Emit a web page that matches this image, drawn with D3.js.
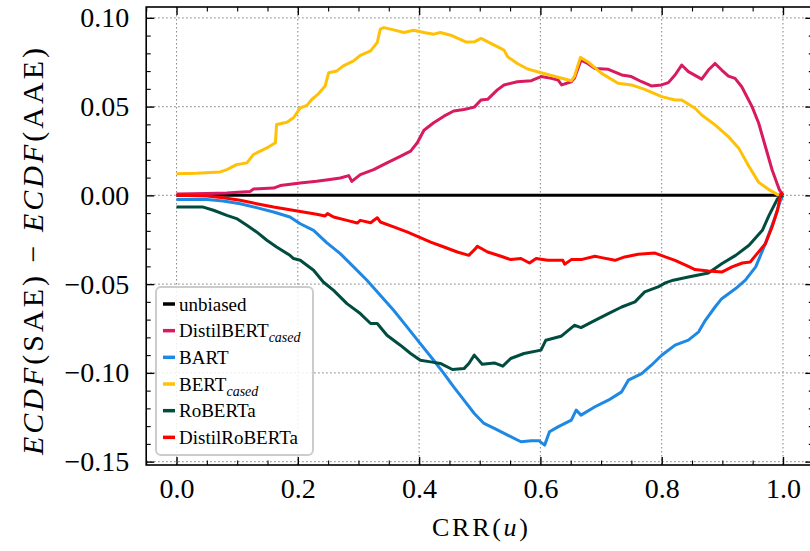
<!DOCTYPE html>
<html><head><meta charset="utf-8">
<script src="https://cdn.jsdelivr.net/npm/d3@7"></script>
</head>
<body style="margin:0;padding:0;background:#fff">
<svg id="chart" width="810" height="551" style="display:block"></svg>
<script>
// ---------------- data ----------------
const seriesNames = ["unbiased", "DistilBERT", "BART", "BERT", "RoBERTa", "DistilRoBERTa"];
const seriesSubs  = ["", "cased", "", "cased", "", ""];
const seriesColors = ["#000000", "#D81B60", "#1E88E5", "#FFC107", "#004D40", "#FF0000"];

const xTicks = [0.0, 0.2, 0.4, 0.6, 0.8, 1.0];
const yTicks = [-0.15, -0.10, -0.05, 0.00, 0.05, 0.10];

const unbiased = [[0, 0], [1, 0]];

const distilBertCased = [[0,0.0008],[0.05,0.0011],[0.083,0.0013],[0.121,0.0021],[0.127,0.0036],[0.160,0.0041],[0.171,0.0055],[0.204,0.007],[0.231,0.0079],[0.253,0.0089],[0.270,0.0098],[0.284,0.0111],[0.289,0.0079],[0.303,0.0117],[0.325,0.0145],[0.347,0.0183],[0.369,0.022],[0.386,0.0249],[0.397,0.0296],[0.408,0.0367],[0.424,0.0409],[0.441,0.0446],[0.457,0.0475],[0.474,0.0484],[0.491,0.0497],[0.502,0.0537],[0.513,0.0541],[0.529,0.0594],[0.540,0.0622],[0.562,0.064],[0.585,0.0646],[0.601,0.0669],[0.618,0.0659],[0.629,0.065],[0.635,0.0622],[0.651,0.064],[0.656,0.0659],[0.667,0.0762],[0.678,0.0743],[0.690,0.0715],[0.712,0.071],[0.734,0.0678],[0.750,0.0669],[0.767,0.064],[0.783,0.0616],[0.800,0.0622],[0.811,0.0635],[0.822,0.0678],[0.833,0.0734],[0.844,0.0697],[0.866,0.0655],[0.877,0.0706],[0.888,0.0743],[0.899,0.0706],[0.910,0.0672],[0.921,0.0659],[0.932,0.0612],[0.949,0.050],[0.960,0.0406],[0.971,0.0275],[0.982,0.0144],[0.994,0.0032],[1.0,0]];

const bart = [[0,-0.0024],[0.05,-0.0024],[0.077,-0.0032],[0.105,-0.0047],[0.132,-0.0069],[0.160,-0.0094],[0.187,-0.0122],[0.204,-0.016],[0.226,-0.0197],[0.248,-0.0268],[0.270,-0.0328],[0.292,-0.0403],[0.314,-0.0478],[0.336,-0.0563],[0.358,-0.0647],[0.380,-0.0741],[0.402,-0.0835],[0.424,-0.0929],[0.441,-0.1004],[0.457,-0.1079],[0.474,-0.1154],[0.491,-0.1229],[0.507,-0.1285],[0.524,-0.1313],[0.546,-0.1351],[0.568,-0.1388],[0.585,-0.1383],[0.598,-0.1383],[0.607,-0.1407],[0.615,-0.1332],[0.629,-0.1304],[0.651,-0.1266],[0.659,-0.121],[0.667,-0.1238],[0.690,-0.1191],[0.712,-0.1154],[0.734,-0.1107],[0.745,-0.1041],[0.767,-0.1004],[0.783,-0.0957],[0.800,-0.0901],[0.822,-0.0844],[0.844,-0.0816],[0.861,-0.0769],[0.872,-0.0704],[0.888,-0.0629],[0.899,-0.0582],[0.922,-0.0525],[0.938,-0.0478],[0.955,-0.0403],[0.971,-0.0272],[0.985,-0.0141],[0.996,-0.0028],[1.0,0]];

const bertCased = [[0,0.0122],[0.033,0.0124],[0.072,0.0132],[0.083,0.0145],[0.099,0.0173],[0.116,0.0183],[0.127,0.023],[0.149,0.0267],[0.163,0.0296],[0.165,0.0399],[0.182,0.0412],[0.193,0.0437],[0.204,0.0493],[0.215,0.0507],[0.223,0.054],[0.234,0.0572],[0.245,0.0616],[0.251,0.0691],[0.264,0.070],[0.275,0.0729],[0.292,0.0757],[0.303,0.0789],[0.320,0.0814],[0.331,0.0861],[0.336,0.0936],[0.342,0.0945],[0.358,0.0932],[0.375,0.0917],[0.391,0.093],[0.408,0.0917],[0.424,0.0908],[0.435,0.0917],[0.452,0.0902],[0.477,0.0864],[0.491,0.0865],[0.502,0.0884],[0.524,0.0846],[0.540,0.0818],[0.546,0.0781],[0.562,0.0743],[0.579,0.0712],[0.601,0.0691],[0.629,0.0665],[0.651,0.0646],[0.656,0.0669],[0.666,0.0777],[0.678,0.0753],[0.701,0.0687],[0.728,0.0631],[0.750,0.0622],[0.772,0.0597],[0.800,0.0556],[0.822,0.0537],[0.833,0.0537],[0.855,0.0491],[0.866,0.0453],[0.888,0.0397],[0.910,0.0331],[0.927,0.0266],[0.944,0.0163],[0.960,0.0073],[0.977,0.0032],[0.991,0.0004],[1.0,0]];

const roberta = [[0,-0.0066],[0.044,-0.0066],[0.061,-0.0084],[0.083,-0.0113],[0.099,-0.0131],[0.116,-0.0169],[0.132,-0.0206],[0.149,-0.0253],[0.165,-0.0291],[0.187,-0.0338],[0.193,-0.0356],[0.204,-0.0366],[0.226,-0.0422],[0.242,-0.0488],[0.259,-0.0535],[0.281,-0.061],[0.303,-0.0666],[0.320,-0.0722],[0.331,-0.0722],[0.347,-0.0788],[0.369,-0.0844],[0.386,-0.0891],[0.402,-0.0929],[0.419,-0.0938],[0.435,-0.0947],[0.455,-0.0981],[0.474,-0.0976],[0.482,-0.0947],[0.491,-0.090],[0.504,-0.0951],[0.524,-0.0944],[0.538,-0.0962],[0.551,-0.0919],[0.573,-0.0891],[0.601,-0.0872],[0.609,-0.0816],[0.634,-0.0794],[0.656,-0.0732],[0.667,-0.0745],[0.690,-0.0704],[0.712,-0.0666],[0.734,-0.0629],[0.756,-0.060],[0.772,-0.0544],[0.794,-0.0516],[0.806,-0.0493],[0.819,-0.0478],[0.844,-0.046],[0.877,-0.0437],[0.899,-0.0385],[0.922,-0.0338],[0.944,-0.0281],[0.966,-0.0197],[0.977,-0.0113],[0.991,-0.0019],[1.0,0]];

const distilRoberta = [[0,0],[0.05,-0.0004],[0.077,-0.0013],[0.105,-0.0028],[0.132,-0.0047],[0.160,-0.0066],[0.187,-0.0081],[0.209,-0.0094],[0.231,-0.0107],[0.245,-0.0116],[0.249,-0.0103],[0.259,-0.0122],[0.281,-0.0141],[0.298,-0.0156],[0.303,-0.0141],[0.320,-0.0154],[0.331,-0.0126],[0.336,-0.015],[0.358,-0.0178],[0.380,-0.0206],[0.402,-0.0238],[0.419,-0.0263],[0.441,-0.0291],[0.463,-0.0319],[0.482,-0.0338],[0.493,-0.030],[0.496,-0.0287],[0.513,-0.0319],[0.535,-0.0343],[0.551,-0.0362],[0.568,-0.0356],[0.582,-0.0381],[0.593,-0.0356],[0.612,-0.0366],[0.637,-0.0366],[0.640,-0.0388],[0.651,-0.0362],[0.667,-0.0362],[0.690,-0.0343],[0.701,-0.0351],[0.723,-0.0366],[0.739,-0.0347],[0.761,-0.0332],[0.789,-0.0325],[0.806,-0.0347],[0.822,-0.0366],[0.844,-0.040],[0.855,-0.0418],[0.877,-0.0426],[0.899,-0.0432],[0.916,-0.0403],[0.933,-0.0381],[0.946,-0.0375],[0.955,-0.0338],[0.971,-0.0272],[0.982,-0.0178],[0.991,-0.0084],[0.996,0.0005],[0.998,0.0012],[1.0,0]];

const seriesData = [unbiased, distilBertCased, bart, bertCased, roberta, distilRoberta];

// ---------------- layout ----------------
const FONT = "'Liberation Serif', 'Times New Roman', serif";
const svg = d3.select("#chart");
const L = 146.2, R = 813.3, T = 7, B = 465;
const x = d3.scaleLinear().domain([-0.05, 1.05]).range([L, R]);
const y = d3.scaleLinear().domain([-0.1519, 0.1061]).range([B, T]);

const fmtY = v => (v < 0 ? "\u2212" : "") + Math.abs(v).toFixed(2);
const fmtX = v => v.toFixed(1);

// grid
const grid = svg.append("g");
grid.selectAll(".gx").data(xTicks).join("line")
  .attr("x1", d => x(d)).attr("x2", d => x(d)).attr("y1", T).attr("y2", B)
  .attr("stroke", "#8c8c8c").attr("stroke-width", 1.1).attr("stroke-dasharray", "1.4,2.6");
grid.selectAll(".gy").data(yTicks).join("line")
  .attr("x1", L).attr("x2", R).attr("y1", d => y(d)).attr("y2", d => y(d))
  .attr("stroke", "#8c8c8c").attr("stroke-width", 1.1).attr("stroke-dasharray", "1.4,2.6");

// lines
const line = d3.line().x(d => x(d[0])).y(d => y(d[1]));
svg.append("g").selectAll("path").data(seriesData).join("path")
  .attr("d", d => line(d))
  .attr("fill", "none")
  .attr("stroke", (d, i) => seriesColors[i])
  .attr("stroke-width", 3)
  .attr("stroke-linejoin", "round");

// axes with inward ticks on all sides
const xMinor = d3.range(-0.05, 1.0501, 0.05).filter(v => Math.abs(Math.round(v / 0.2) * 0.2 - v) > 1e-6);
const yMinor = d3.range(-0.15, 0.1061, 0.01).filter(v => Math.abs(Math.round(v / 0.05) * 0.05 - v) > 1e-6);

function addAxis(axis, tr, major, minor, fmt, showLabels) {
  const g = svg.append("g").attr("transform", tr);
  g.call(axis.tickValues(major).tickSizeInner(-8).tickSizeOuter(0).tickPadding(showLabels ? 12 : 0).tickFormat(showLabels ? fmt : ""));
  g.select(".domain").remove();
  g.selectAll(".tick line").attr("stroke", "#000").attr("stroke-width", 1.4);
  g.selectAll(".tick text").style("font-family", FONT).style("font-size", "28px").attr("fill", "#000");
  const g2 = svg.append("g").attr("transform", tr);
  g2.call(axis.tickValues(minor).tickSizeInner(-4.5).tickSizeOuter(0).tickFormat(""));
  g2.select(".domain").remove();
  g2.selectAll(".tick line").attr("stroke", "#000").attr("stroke-width", 1.1);
  return g;
}
const gxB = addAxis(d3.axisBottom(x), `translate(0,${B})`, xTicks, xMinor, fmtX, true);
addAxis(d3.axisTop(x), `translate(0,${T})`, xTicks, xMinor, fmtX, false);
const gyL = addAxis(d3.axisLeft(y), `translate(${L},0)`, yTicks, yMinor, fmtY, true);
addAxis(d3.axisRight(y), `translate(${R},0)`, yTicks, yMinor, fmtY, false);
gyL.selectAll(".tick text").attr("x", -17);
gxB.selectAll(".tick text").attr("y", 13);

// frame
svg.append("rect").attr("x", L).attr("y", T).attr("width", R - L).attr("height", B - T)
  .attr("fill", "none").attr("stroke", "#000").attr("stroke-width", 1.6);

// legend
const lg = svg.append("g");
lg.append("rect").attr("x", 156).attr("y", 287).attr("width", 157).attr("height", 168)
  .attr("rx", 5).attr("fill", "#fff").attr("fill-opacity", 0.85)
  .attr("stroke", "#cccccc").attr("stroke-width", 2);
seriesNames.forEach((n, i) => {
  const cy = 304 + i * 26.67;
  lg.append("line").attr("x1", 163).attr("x2", 175).attr("y1", cy).attr("y2", cy)
    .attr("stroke", seriesColors[i]).attr("stroke-width", 3.5);
  const t = lg.append("text").attr("x", 179).attr("y", cy + 6.5)
    .style("font-family", FONT).style("font-size", "19px").attr("fill", "#000");
  t.append("tspan").text(n);
  if (seriesSubs[i]) {
    t.append("tspan").attr("dy", 5).style("font-size", "14px").style("font-style", "italic").text(seriesSubs[i]);
  }
});

// x label
const xl = svg.append("text").attr("x", 480).attr("y", 536).attr("text-anchor", "middle")
  .style("font-family", FONT).style("font-size", "26px").attr("fill", "#000")
  .attr("textLength", 96).attr("lengthAdjust", "spacing");
xl.append("tspan").text("CRR(");
xl.append("tspan").style("font-style", "italic").text("u");
xl.append("tspan").text(")");

// y label
const yl = svg.append("text").attr("transform", "translate(43,251.5) rotate(-90)")
  .attr("text-anchor", "middle").style("font-family", FONT).style("font-size", "30px").attr("fill", "#000")
  .attr("textLength", 407).attr("lengthAdjust", "spacing");
yl.append("tspan").style("font-style", "italic").text("ECDF");
yl.append("tspan").text("(SAE) \u2212 ");
yl.append("tspan").style("font-style", "italic").text("ECDF");
yl.append("tspan").text("(AAE)");
</script>
</body></html>
